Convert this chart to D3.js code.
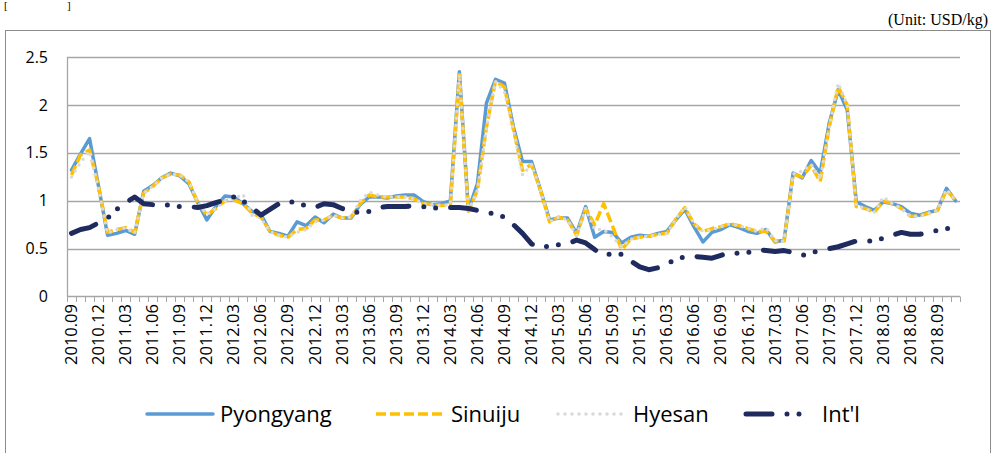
<!DOCTYPE html>
<html><head><meta charset="utf-8">
<script src="https://cdn.jsdelivr.net/npm/d3@7/dist/d3.min.js"></script>
<style>body{margin:0;background:#fff;}svg{display:block;}</style>
</head><body><svg id="c" width="996" height="453"></svg>
<script>
const months = ["2010.09","2010.10","2010.11","2010.12",
"2011.01","2011.02","2011.03","2011.04","2011.05","2011.06","2011.07","2011.08","2011.09","2011.10","2011.11","2011.12",
"2012.01","2012.02","2012.03","2012.04","2012.05","2012.06","2012.07","2012.08","2012.09","2012.10","2012.11","2012.12",
"2013.01","2013.02","2013.03","2013.04","2013.05","2013.06","2013.07","2013.08","2013.09","2013.10","2013.11","2013.12",
"2014.01","2014.02","2014.03","2014.04","2014.05","2014.06","2014.07","2014.08","2014.09","2014.10","2014.11","2014.12",
"2015.01","2015.02","2015.03","2015.04","2015.05","2015.06","2015.07","2015.08","2015.09","2015.10","2015.11","2015.12",
"2016.01","2016.02","2016.03","2016.04","2016.05","2016.06","2016.07","2016.08","2016.09","2016.10","2016.11","2016.12",
"2017.01","2017.02","2017.03","2017.04","2017.05","2017.06","2017.07","2017.08","2017.09","2017.10","2017.11","2017.12",
"2018.01","2018.02","2018.03","2018.04","2018.05","2018.06","2018.07","2018.08","2018.09","2018.10","2018.11"];

const yTicks = [0, 0.5, 1, 1.5, 2, 2.5];
const yTickLabels = ["0","0.5","1","1.5","2","2.5"];

const pyongyang = [1.32,1.49,1.65,1.15,0.64,0.66,0.69,0.65,1.10,1.16,1.24,1.29,1.26,1.18,0.98,0.80,0.94,1.05,1.04,0.97,
0.89,0.86,0.68,0.66,0.63,0.78,0.74,0.83,0.77,0.86,0.82,0.82,0.96,1.04,1.04,1.03,1.05,1.06,1.06,0.99,
0.96,0.97,1.00,2.35,0.90,1.18,2.02,2.27,2.23,1.77,1.41,1.41,1.11,0.80,0.82,0.82,0.66,0.94,0.62,0.68,
0.67,0.56,0.62,0.64,0.63,0.66,0.68,0.80,0.91,0.73,0.57,0.67,0.70,0.75,0.72,0.68,0.66,0.70,0.57,0.59,
1.29,1.24,1.42,1.29,1.81,2.16,1.95,0.99,0.94,0.90,0.99,0.97,0.94,0.87,0.85,0.88,0.90,1.13,1.00];

const sinuiju = [1.27,1.48,1.53,1.15,0.67,0.70,0.72,0.67,1.08,1.15,1.24,1.28,1.27,1.20,0.98,0.85,0.92,1.00,1.01,0.97,
0.87,0.83,0.68,0.64,0.62,0.70,0.71,0.80,0.80,0.85,0.82,0.83,0.97,1.06,1.04,1.04,1.04,1.04,1.02,0.97,
0.96,0.95,0.96,2.32,0.89,1.11,1.77,2.25,2.19,1.74,1.32,1.38,1.11,0.78,0.83,0.80,0.64,0.92,0.75,0.97,
0.73,0.49,0.60,0.62,0.63,0.65,0.66,0.81,0.93,0.76,0.68,0.71,0.73,0.76,0.74,0.71,0.68,0.68,0.58,0.58,
1.28,1.25,1.37,1.20,1.77,2.19,2.00,0.94,0.92,0.88,1.00,0.97,0.92,0.84,0.84,0.87,0.90,1.11,1.01];

const hyesan = [1.25,1.40,1.52,1.12,0.66,0.70,0.72,0.66,1.08,1.15,1.24,1.28,1.27,1.20,0.98,0.86,0.92,1.00,1.02,1.07,
0.85,0.82,0.68,0.64,0.62,0.67,0.70,0.78,0.80,0.85,0.82,0.83,1.00,1.09,1.06,1.04,1.04,1.04,1.02,0.97,
0.96,0.95,0.96,2.32,0.89,1.11,1.75,2.25,2.14,1.74,1.27,1.38,1.11,0.78,0.83,0.80,0.64,0.92,0.70,0.70,
0.62,0.52,0.60,0.62,0.63,0.65,0.66,0.81,0.94,0.76,0.68,0.70,0.73,0.76,0.74,0.71,0.68,0.72,0.58,0.58,
1.28,1.31,1.38,1.22,1.77,2.23,2.00,0.95,0.92,0.88,1.04,0.97,0.92,0.84,0.84,0.87,0.90,1.12,1.01];

const intl = [0.66,0.70,0.72,0.77,0.82,0.91,0.98,1.04,0.97,0.96,0.97,0.95,0.94,0.94,0.93,0.95,0.98,1.01,1.04,1.00,
0.93,0.85,0.91,0.97,1.00,0.97,0.95,0.93,0.97,0.96,0.92,0.88,0.88,0.89,0.93,0.94,0.94,0.94,0.95,0.94,
0.92,0.93,0.93,0.93,0.92,0.90,0.88,0.86,0.83,0.75,0.66,0.55,0.51,0.53,0.54,0.55,0.59,0.56,0.49,0.43,
0.45,0.44,0.37,0.31,0.28,0.30,0.35,0.38,0.42,0.42,0.41,0.40,0.43,0.46,0.45,0.46,0.49,0.48,0.47,0.48,
0.46,0.43,0.46,0.48,0.50,0.52,0.55,0.58,0.58,0.58,0.61,0.64,0.67,0.65,0.65,0.67,0.69,0.71,0.72];

const seriesNames = ["Pyongyang","Sinuiju","Hyesan","Int'l"];

const svg = d3.select("#c");
const FONT = "'Open Sans', 'Noto Sans', sans-serif";

// frame
svg.append("rect").attr("x",5.5).attr("y",30.5).attr("width",985).attr("height",440)
  .attr("fill","none").attr("stroke","#8c8c8c").attr("stroke-width",1);

// top-left bracket and unit
svg.append("text").attr("x",4).attr("y",9).attr("font-family","'Liberation Serif', serif").attr("font-size",11).attr("fill","#000").text("[");
svg.append("text").attr("x",67).attr("y",9).attr("font-family","'Liberation Serif', serif").attr("font-size",11).attr("fill","#000").text("]");
svg.append("text").attr("x",988).attr("y",25).attr("text-anchor","end")
  .attr("font-family","'Liberation Serif', serif").attr("font-size",16).attr("fill","#000").text("(Unit: USD/kg)");

const x = d3.scaleBand().domain(months).range([67, 960]).padding(0);
const y = d3.scaleLinear().domain([0, 2.5]).range([296.5, 57.3]);
const cx = d => x(d) + x.bandwidth()/2;

// gridlines
svg.append("g").selectAll("line").data(yTicks.filter(t=>t>0)).join("line")
  .attr("x1",67).attr("x2",960).attr("y1",d=>Math.round(y(d))+0.5).attr("y2",d=>Math.round(y(d))+0.5)
  .attr("stroke","#a6a6a6").attr("stroke-width",1.3);

// y axis line
svg.append("line").attr("x1",67.5).attr("x2",67.5).attr("y1",57).attr("y2",297).attr("stroke","#a6a6a6").attr("stroke-width",1.3);

// y labels
svg.append("g").selectAll("text").data(yTicks).join("text")
  .attr("x",48).attr("y",d=>y(d)+5.5).attr("text-anchor","end")
  .attr("font-family",FONT).attr("font-size",16).attr("fill","#000")
  .text((d,i)=>yTickLabels[i]);

// x axis line and boundary ticks
svg.append("line").attr("x1",67).attr("x2",960).attr("y1",296.5).attr("y2",296.5).attr("stroke","#a6a6a6").attr("stroke-width",1.3);
const bounds = months.map(m => x(m)).concat([x(months[months.length-1]) + x.bandwidth()]);
svg.append("g").selectAll("line").data(bounds).join("line")
  .attr("x1",d=>Math.round(d)+0.5).attr("x2",d=>Math.round(d)+0.5).attr("y1",296.5).attr("y2",302)
  .attr("stroke","#a6a6a6").attr("stroke-width",1);

// x labels every 3rd month
svg.append("g").selectAll("text").data(months.filter((m,i)=>i%3===0)).join("text")
  .attr("transform",d=>`translate(${cx(d)+5.5},304) rotate(-90)`)
  .attr("text-anchor","end")
  .attr("font-family",FONT).attr("font-size",16.5).attr("fill","#000")
  .text(d=>d);

const line = d3.line().x((d,i)=>cx(months[i])).y(d=>y(d));

const styles = [
  {data:pyongyang, color:"#5b9bd5", w:3.5, dash:null, cap:"round"},
  {data:sinuiju, color:"#ffc000", w:3.5, dash:"10,4", cap:"butt"},
  {data:hyesan, color:"#d9d9d9", w:3.5, dash:"0,7", cap:"round"},
  {data:intl, color:"#1f2b5e", w:5, dash:"26,15,0,12,0,15", cap:"round"}
];

styles.forEach(s => {
  svg.append("path").datum(s.data).attr("d", line)
    .attr("fill","none").attr("stroke",s.color).attr("stroke-width",s.w)
    .attr("stroke-linejoin","round").attr("stroke-linecap",s.cap)
    .attr("stroke-dasharray",s.dash);
});

// legend
const legX = [147, 376, 558, 746];
const legTx = [220, 451, 633, 822];
const legY = 414;
seriesNames.forEach((n,i) => {
  const s = styles[i];
  svg.append("line").attr("x1",legX[i]).attr("x2",legX[i]+ (i===3?62:66)).attr("y1",legY).attr("y2",legY)
    .attr("stroke",s.color).attr("stroke-width",s.w).attr("stroke-linecap",s.cap)
    .attr("stroke-dasharray",s.dash);
  svg.append("text").attr("x",legTx[i]).attr("y",legY+8).attr("font-family",FONT).attr("font-size",22)
    .attr("fill","#000").text(n);
});
</script></body></html>
